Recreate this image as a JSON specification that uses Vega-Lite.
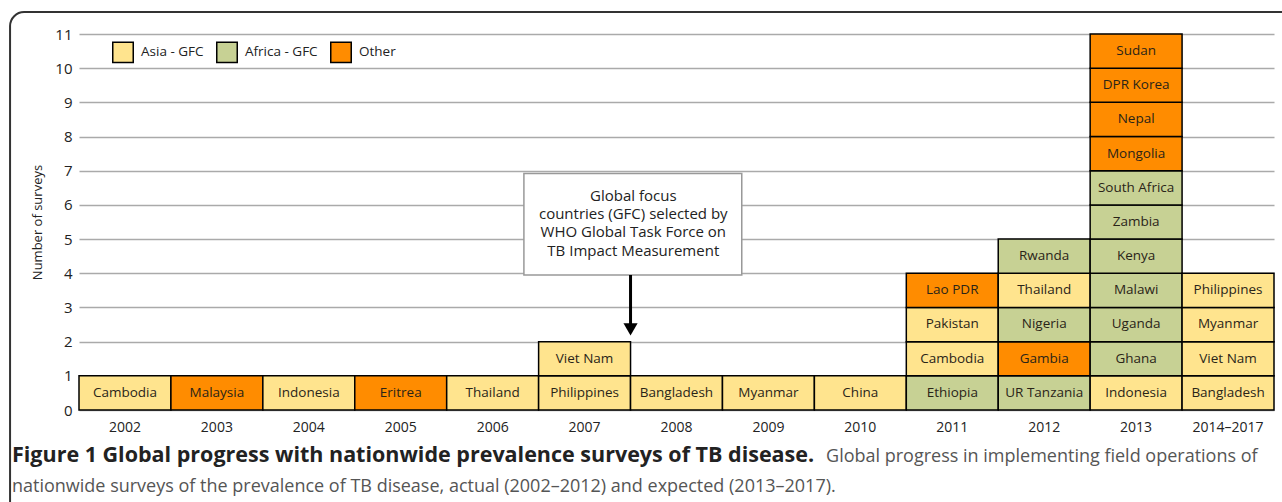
{
  "$schema": "https://vega.github.io/schema/vega-lite/v6.json",
  "width": 1195,
  "height": 376,
  "autosize": {"type": "none"},
  "padding": {"left": 79, "top": 34, "right": 8, "bottom": 92},
  "background": "white",
  "config": {"view": {"stroke": null}, "font": "Open Sans"},
  "datasets": {
    "surveys": [
      {"year": "2002", "country": "Cambodia", "group": "Asia - GFC", "rank": 1, "n": 1},
      {"year": "2003", "country": "Malaysia", "group": "Other", "rank": 1, "n": 1},
      {"year": "2004", "country": "Indonesia", "group": "Asia - GFC", "rank": 1, "n": 1},
      {"year": "2005", "country": "Eritrea", "group": "Other", "rank": 1, "n": 1},
      {"year": "2006", "country": "Thailand", "group": "Asia - GFC", "rank": 1, "n": 1},
      {"year": "2007", "country": "Philippines", "group": "Asia - GFC", "rank": 1, "n": 1},
      {"year": "2007", "country": "Viet Nam", "group": "Asia - GFC", "rank": 2, "n": 1},
      {"year": "2008", "country": "Bangladesh", "group": "Asia - GFC", "rank": 1, "n": 1},
      {"year": "2009", "country": "Myanmar", "group": "Asia - GFC", "rank": 1, "n": 1},
      {"year": "2010", "country": "China", "group": "Asia - GFC", "rank": 1, "n": 1},
      {"year": "2011", "country": "Ethiopia", "group": "Africa - GFC", "rank": 1, "n": 1},
      {"year": "2011", "country": "Cambodia", "group": "Asia - GFC", "rank": 2, "n": 1},
      {"year": "2011", "country": "Pakistan", "group": "Asia - GFC", "rank": 3, "n": 1},
      {"year": "2011", "country": "Lao PDR", "group": "Other", "rank": 4, "n": 1},
      {"year": "2012", "country": "UR Tanzania", "group": "Africa - GFC", "rank": 1, "n": 1},
      {"year": "2012", "country": "Gambia", "group": "Other", "rank": 2, "n": 1},
      {"year": "2012", "country": "Nigeria", "group": "Africa - GFC", "rank": 3, "n": 1},
      {"year": "2012", "country": "Thailand", "group": "Asia - GFC", "rank": 4, "n": 1},
      {"year": "2012", "country": "Rwanda", "group": "Africa - GFC", "rank": 5, "n": 1},
      {"year": "2013", "country": "Indonesia", "group": "Asia - GFC", "rank": 1, "n": 1},
      {"year": "2013", "country": "Ghana", "group": "Africa - GFC", "rank": 2, "n": 1},
      {"year": "2013", "country": "Uganda", "group": "Africa - GFC", "rank": 3, "n": 1},
      {"year": "2013", "country": "Malawi", "group": "Africa - GFC", "rank": 4, "n": 1},
      {"year": "2013", "country": "Kenya", "group": "Africa - GFC", "rank": 5, "n": 1},
      {"year": "2013", "country": "Zambia", "group": "Africa - GFC", "rank": 6, "n": 1},
      {"year": "2013", "country": "South Africa", "group": "Africa - GFC", "rank": 7, "n": 1},
      {"year": "2013", "country": "Mongolia", "group": "Other", "rank": 8, "n": 1},
      {"year": "2013", "country": "Nepal", "group": "Other", "rank": 9, "n": 1},
      {"year": "2013", "country": "DPR Korea", "group": "Other", "rank": 10, "n": 1},
      {"year": "2013", "country": "Sudan", "group": "Other", "rank": 11, "n": 1},
      {"year": "2014–2017", "country": "Bangladesh", "group": "Asia - GFC", "rank": 1, "n": 1},
      {"year": "2014–2017", "country": "Viet Nam", "group": "Asia - GFC", "rank": 2, "n": 1},
      {"year": "2014–2017", "country": "Myanmar", "group": "Asia - GFC", "rank": 3, "n": 1},
      {"year": "2014–2017", "country": "Philippines", "group": "Asia - GFC", "rank": 4, "n": 1}
    ],
    "one": [{"note": "annotation"}]
  },
  "layer": [
    {
      "data": {"name": "surveys"},
      "mark": {"type": "bar", "stroke": "black", "strokeWidth": 1.5, "opacity": 1},
      "encoding": {
        "x": {
          "field": "year", "type": "nominal", "sort": null,
          "scale": {"paddingInner": 0, "paddingOuter": 0},
          "axis": {"title": null, "labelAngle": 0, "labelFontSize": 14, "labelColor": "#222", "labelPadding": 10, "domain": false, "ticks": false}
        },
        "y": {
          "field": "n", "type": "quantitative", "stack": "zero",
          "scale": {"domain": [0, 11], "nice": false},
          "axis": {"title": "Number of surveys", "titleFontSize": 13, "titleFontWeight": "normal", "titleColor": "#222", "titlePadding": 10, "values": [0,1,2,3,4,5,6,7,8,9,10,11], "labelFontSize": 15, "labelColor": "#222", "labelPadding": 7, "ticks": false, "domain": false, "grid": true, "gridColor": "#aaaaaa", "gridWidth": 1.5}
        },
        "order": {"field": "rank", "type": "quantitative"},
        "color": {
          "field": "group", "type": "nominal",
          "scale": {"domain": ["Asia - GFC", "Africa - GFC", "Other"], "range": ["#FFE48E", "#C7D194", "#FF8C00"]},
          "legend": {"title": null, "orient": "none", "legendX": 33, "legendY": 7, "direction": "horizontal", "symbolType": "square", "symbolSize": 420, "symbolStrokeColor": "black", "symbolStrokeWidth": 1.5, "symbolOpacity": 1, "labelFontSize": 13.5, "labelColor": "#222", "labelOffset": 7, "columnPadding": 9, "padding": 0}
        }
      }
    },
    {
      "data": {"name": "surveys"},
      "mark": {"type": "text", "baseline": "middle", "align": "center", "dy": 17, "fontSize": 13.5, "color": "#2a2418"},
      "encoding": {
        "x": {"field": "year", "type": "nominal", "sort": null, "scale": {"paddingInner": 0, "paddingOuter": 0}, "axis": null},
        "y": {"field": "rank", "type": "quantitative", "stack": null, "scale": {"domain": [0, 11], "nice": false}, "axis": null},
        "text": {"field": "country"}
      }
    },
    {
      "data": {"name": "one"},
      "mark": {"type": "rect", "fill": "white", "stroke": "#999999", "strokeWidth": 1.5},
      "encoding": {
        "x": {"datum": 4.84, "type": "quantitative", "scale": {"domain": [0, 13], "nice": false, "zero": false}, "axis": null},
        "x2": {"datum": 7.21},
        "y": {"datum": 3.95, "type": "quantitative", "scale": {"domain": [0, 11], "nice": false}, "axis": null},
        "y2": {"datum": 6.92}
      }
    },
    {
      "data": {"name": "one"},
      "mark": {"type": "text", "text": ["Global focus", "countries (GFC) selected by", "WHO Global Task Force on", "TB Impact Measurement"], "align": "center", "baseline": "middle", "fontSize": 15, "lineHeight": 18.2, "color": "#222"},
      "encoding": {
        "x": {"datum": 6.03, "type": "quantitative", "scale": {"domain": [0, 13], "nice": false, "zero": false}, "axis": null},
        "y": {"datum": 6.26, "type": "quantitative", "scale": {"domain": [0, 11], "nice": false}, "axis": null}
      }
    },
    {
      "data": {"name": "one"},
      "mark": {"type": "rule", "color": "black", "strokeWidth": 3},
      "encoding": {
        "x": {"datum": 6.0, "type": "quantitative", "scale": {"domain": [0, 13], "nice": false, "zero": false}, "axis": null},
        "y": {"datum": 3.95, "type": "quantitative", "scale": {"domain": [0, 11], "nice": false}, "axis": null},
        "y2": {"datum": 2.45}
      }
    },
    {
      "data": {"name": "one"},
      "mark": {"type": "point", "shape": "triangle-down", "filled": true, "color": "black", "opacity": 1, "size": 200},
      "encoding": {
        "x": {"datum": 6.0, "type": "quantitative", "scale": {"domain": [0, 13], "nice": false, "zero": false}, "axis": null},
        "y": {"datum": 2.36, "type": "quantitative", "scale": {"domain": [0, 11], "nice": false}, "axis": null}
      }
    },
    {
      "data": {"name": "one"},
      "mark": {"type": "rect", "fill": null, "fillOpacity": 0, "stroke": "#333333", "strokeWidth": 2, "cornerRadius": 14},
      "encoding": {
        "x": {"datum": -0.75, "type": "quantitative", "scale": {"domain": [0, 13], "nice": false, "zero": false}, "axis": null},
        "x2": {"datum": 13.4},
        "y": {"datum": 11.64, "type": "quantitative", "scale": {"domain": [0, 11], "nice": false}, "axis": null},
        "y2": {"datum": -3.3}
      }
    },
    {
      "data": {"name": "one"},
      "mark": {"type": "text", "text": "Figure 1 Global progress with nationwide prevalence surveys of TB disease.", "align": "left", "baseline": "alphabetic", "fontSize": 21.5, "fontWeight": "bold", "color": "#222"},
      "encoding": {
        "x": {"datum": -0.729, "type": "quantitative", "scale": {"domain": [0, 13], "nice": false, "zero": false}, "axis": null},
        "y": {"datum": -1.523, "type": "quantitative", "scale": {"domain": [0, 11], "nice": false}, "axis": null}
      }
    },
    {
      "data": {"name": "one"},
      "mark": {"type": "text", "text": "Global progress in implementing field operations of", "align": "left", "baseline": "alphabetic", "fontSize": 18, "color": "#555"},
      "encoding": {
        "x": {"datum": 8.127, "type": "quantitative", "scale": {"domain": [0, 13], "nice": false, "zero": false}, "axis": null},
        "y": {"datum": -1.523, "type": "quantitative", "scale": {"domain": [0, 11], "nice": false}, "axis": null}
      }
    },
    {
      "data": {"name": "one"},
      "mark": {"type": "text", "text": "nationwide surveys of the prevalence of TB disease, actual (2002–2012) and expected (2013–2017).", "align": "left", "baseline": "alphabetic", "fontSize": 18, "color": "#555"},
      "encoding": {
        "x": {"datum": -0.729, "type": "quantitative", "scale": {"domain": [0, 13], "nice": false, "zero": false}, "axis": null},
        "y": {"datum": -2.40, "type": "quantitative", "scale": {"domain": [0, 11], "nice": false}, "axis": null}
      }
    }
  ],
  "resolve": {"scale": {"x": "independent"}, "axis": {"x": "independent", "y": "independent"}}
}
